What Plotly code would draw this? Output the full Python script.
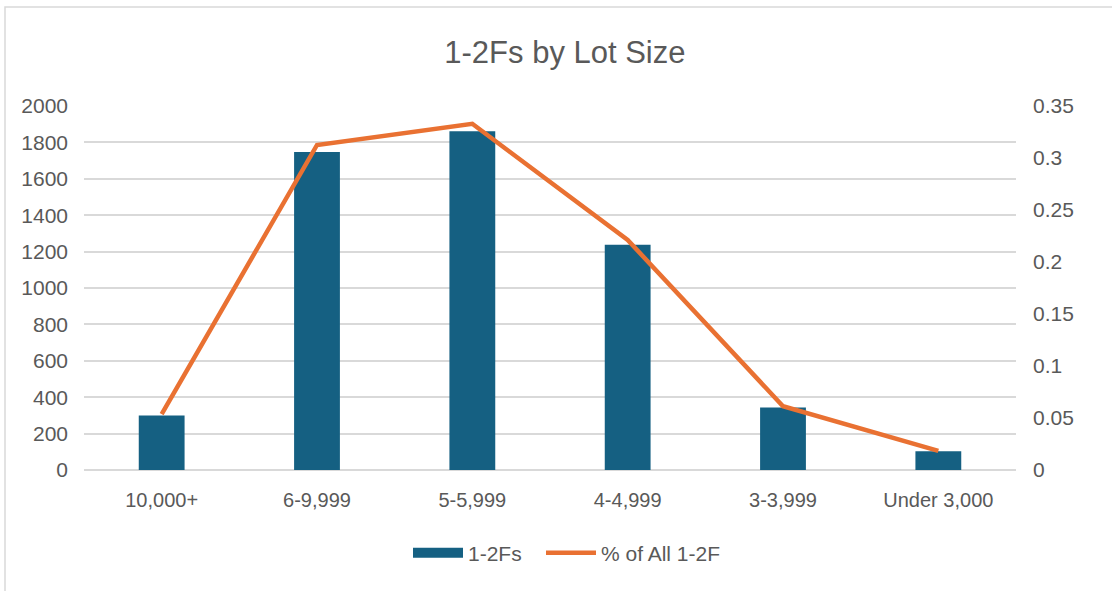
import plotly.graph_objects as go

categories = ["10,000+", "6-9,999", "5-5,999", "4-4,999", "3-3,999", "Under 3,000"]
counts = [300, 1747, 1861, 1237, 343, 103]
pct_all = [0.0537, 0.3125, 0.3329, 0.2212, 0.0613, 0.0184]

FONT = "Liberation Sans, Arial, sans-serif"
GREY = "#595959"
BAR = "#156082"
ORANGE = "#E97132"

fig = go.Figure()
fig.add_trace(go.Bar(x=categories, y=counts, name="1-2Fs",
                     marker=dict(color=BAR, line=dict(width=0)),
                     yaxis="y", showlegend=False))
# legend-only entry drawn as a wide rectangle swatch for the bars
fig.add_trace(go.Scatter(x=[categories[0]], y=[None], name="1-2Fs",
                         mode="lines", line=dict(color=BAR, width=14),
                         yaxis="y", showlegend=True, hoverinfo="skip",
                         legend="legend"))
fig.add_trace(go.Scatter(x=categories, y=pct_all, name="% of All 1-2F",
                         mode="lines", line=dict(color=ORANGE, width=4.5),
                         yaxis="y2", legend="legend2"))

leg_common = dict(orientation="h", xanchor="left", y=-0.228, yanchor="middle",
                  font=dict(size=21, color=GREY), itemwidth=50,
                  bgcolor="rgba(0,0,0,0)")

fig.update_layout(
    width=1112, height=591,
    margin=dict(l=84, r=96, t=106, b=121),
    paper_bgcolor="white", plot_bgcolor="white",
    font=dict(family=FONT, color=GREY, size=21),
    title=dict(text="1-2Fs by Lot Size", x=0.508, xanchor="center",
               y=1 - 52 / 591, yanchor="middle",
               font=dict(size=31, color=GREY, family=FONT)),
    bargap=0.705,
    showlegend=True,
    legend=dict(x=(408 - 84) / 932, **leg_common),
    legend2=dict(x=(541 - 84) / 932, **leg_common),
    xaxis=dict(showgrid=False, showline=False, ticks="",
               ticklabelstandoff=16, tickfont=dict(size=20)),
    yaxis=dict(range=[0, 2000], dtick=200, showgrid=True, gridcolor="#D9D9D9",
               gridwidth=1.8, zeroline=True, zerolinecolor="#D9D9D9",
               zerolinewidth=1.8, showline=False, ticks="",
               ticklabelstandoff=15, tickfont=dict(size=21)),
    yaxis2=dict(range=[0, 0.35], dtick=0.05, overlaying="y", side="right",
                showgrid=False, zeroline=False, showline=False, ticks="",
                ticklabelstandoff=16, tickfont=dict(size=21)),
    shapes=[dict(type="rect", xref="paper", yref="paper",
                 x0=(5 - 84) / 932, x1=1.2, y0=-0.6, y1=(470 - 7) / 364,
                 line=dict(color="#D9D9D9", width=1.5), fillcolor="rgba(0,0,0,0)",
                 layer="below")],
)

fig.write_html("out.html")
